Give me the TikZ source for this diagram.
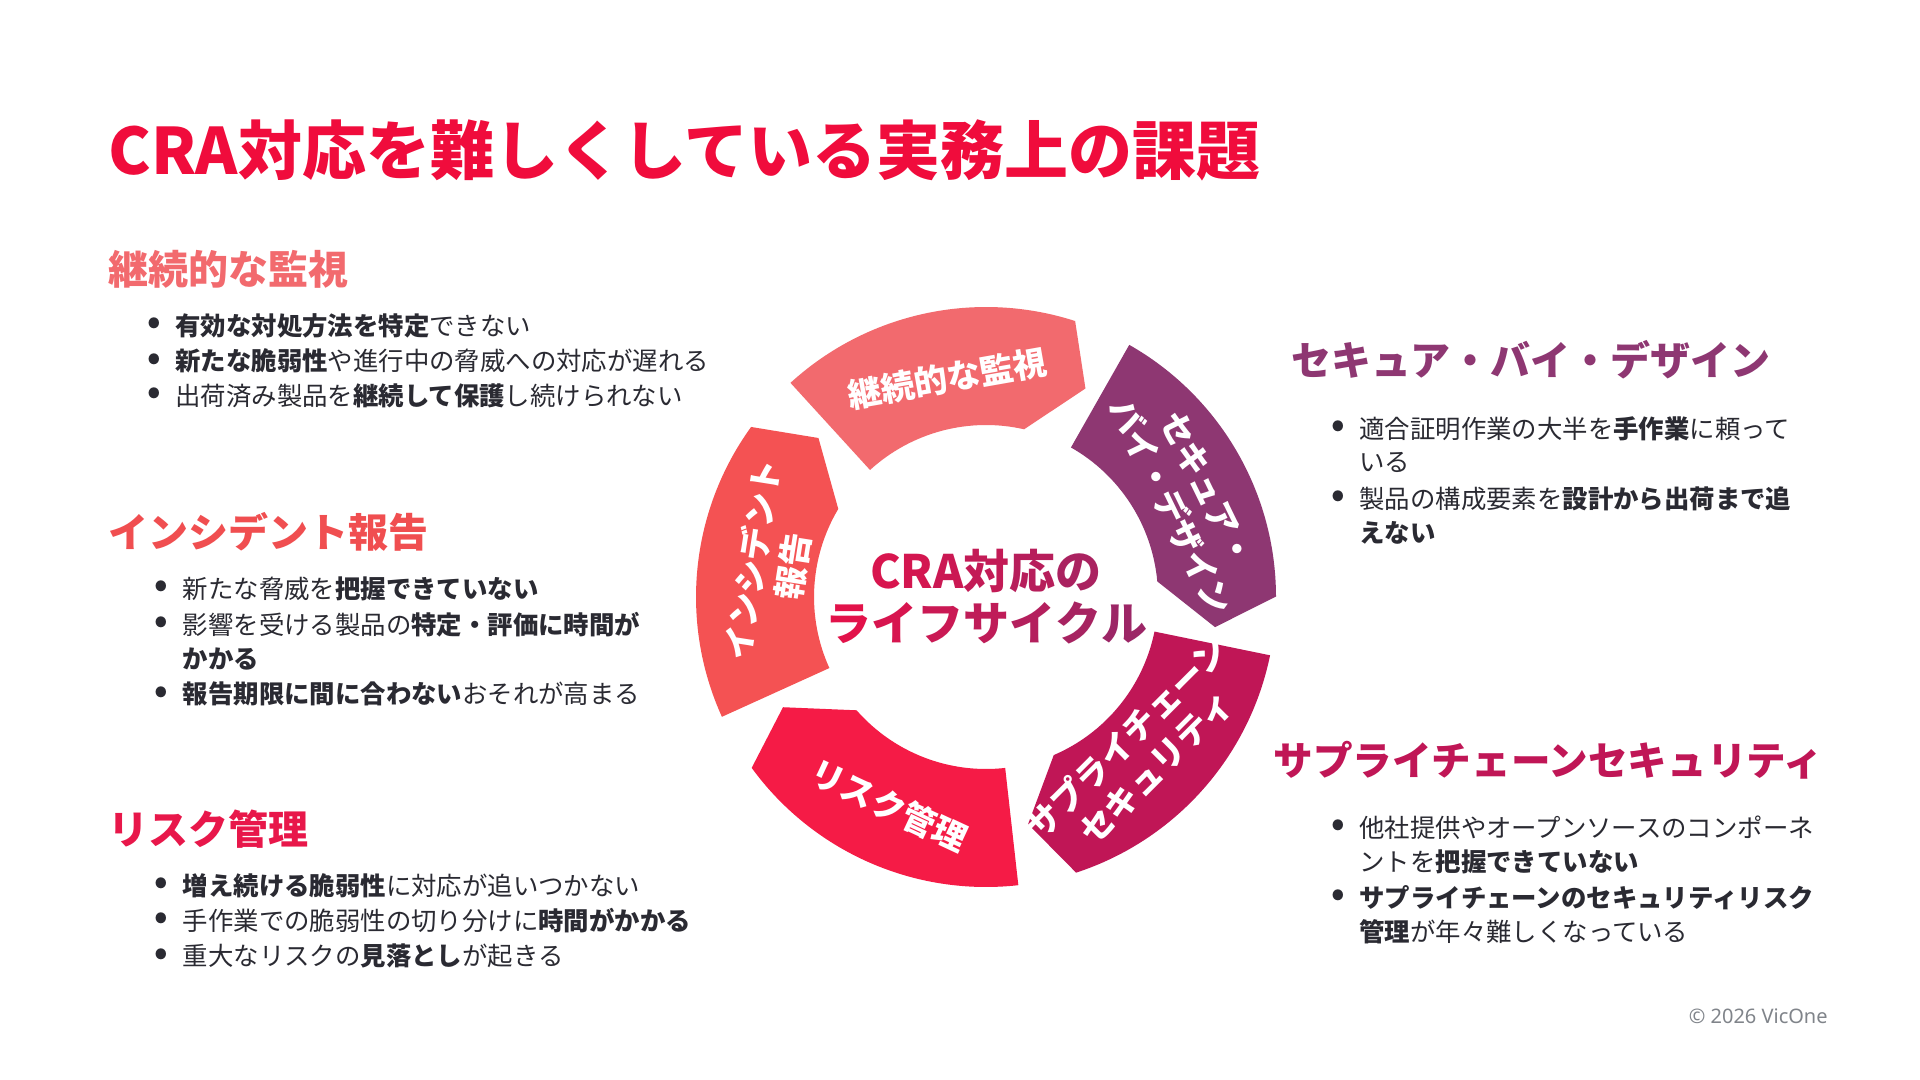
\documentclass[tikz,border=0pt]{standalone}
\usepackage{fontspec}
\setmainfont{Noto Sans CJK JP}
\newfontfamily\notolatin{Noto Sans}
\usetikzlibrary{calc}
\definecolor{titlered}{RGB}{240,12,60}
\definecolor{segA}{RGB}{242,106,110}
\definecolor{segB}{RGB}{142,55,114}
\definecolor{segC}{RGB}{192,22,86}
\definecolor{segD}{RGB}{245,27,70}
\definecolor{segE}{RGB}{244,82,83}
\definecolor{headD}{RGB}{232,23,74}
\definecolor{headE}{RGB}{240,78,80}
\definecolor{bodytext}{RGB}{42,42,50}
\definecolor{copygray}{RGB}{128,132,138}
\definecolor{gL}{RGB}{232,16,72}
\definecolor{gR}{RGB}{150,40,104}
\newcommand{\gc}[2]{\textcolor{gL!#1!gR}{#2}}
\begin{document}
\begin{tikzpicture}[x=0.5pt,y=0.5pt,
  titletext/.style={anchor=west, inner sep=0pt, font=\fontsize{32}{38}\selectfont\bfseries, text=titlered},
  headtext/.style={anchor=west, inner sep=0pt, font=\fontsize{20}{24}\selectfont\bfseries},
  bodyline/.style={anchor=west, inner sep=0pt, font=\fontsize{12.7}{15}\selectfont, text=bodytext},
  bulletmark/.style={anchor=center, inner sep=0pt, font=\fontsize{17}{20}\selectfont\bfseries, text=bodytext},
  seglabel/.style={inner sep=0pt, align=center, text=white, font=\fontsize{16.8}{20.5}\selectfont\bfseries},
  centerlabel/.style={inner sep=0pt, align=center, font=\fontsize{23}{26}\selectfont\bfseries},
]
\useasboundingbox[fill=white] (0,0) rectangle (1920,-1080);
\coordinate (C) at (986,-597);

% ring segments
\foreach \S/\col in {-42.4/segA, 29.6/segB, 101.6/segC, 173.6/segD, 245.6/segE}{
  \fill[\col] ($(C)+({90-\S}:290)$)
    arc[start angle={90-\S}, end angle={90-\S-60.3}, radius=290]
    -- ($(C)+({90-\S-67.9}:231)$)
    -- ($(C)+({90-\S-55.2}:172)$)
    arc[start angle={90-\S-55.2}, end angle={90-\S}, radius=172]
    -- cycle;
}

% segment labels
\node[seglabel, rotate=10] (l1) at ($(C)+(100:222)$) {継続的な監視};
\node[seglabel, rotate=-64] (l2) at ($(C)+(26:226)$) {セキュア・\\バイ・デザイン};
\node[seglabel, rotate=45] (l3) at ($(C)+(-45:220)$) {サプライチェーン\\セキュリティ};
\node[seglabel, rotate=-25] (l4) at ($(C)+(-115:230)$) {リスク管理};
\node[seglabel, rotate=81] (l5) at ($(C)+(-189:216)$) {インシデント\\報告};

% centre text
\node[centerlabel] (ctr) at (C) {\gc{81}{C}\gc{74}{R}\gc{65}{A}\gc{55}{対}\gc{40}{応}\gc{24}{の}\\
\gc{93}{ラ}\gc{79}{イ}\gc{64}{フ}\gc{50}{サ}\gc{36}{イ}\gc{21}{ク}\gc{7}{ル}};

% title
\node[titletext] (title) at (108,-150) {CRA対応を難しくしている実務上の課題};

% left: 継続的な監視
\node[headtext, text=segA] (h1) at (108,-269.4) {継続的な監視};
\node[bulletmark] (b11) at (154,-325.7) {•};
\node[bodyline] (t11) at (175,-325.7) {\textbf{有効な対処方法を特定}できない};
\node[bulletmark] (b12) at (154,-361.2) {•};
\node[bodyline] (t12) at (175,-361.2) {\textbf{新たな脆弱性}や進行中の脅威への対応が遅れる};
\node[bulletmark] (b13) at (154,-395.5) {•};
\node[bodyline] (t13) at (175,-395.5) {出荷済み製品を\textbf{継続して保護}し続けられない};

% left: インシデント報告
\node[headtext, text=headE] (h5) at (108,-531.4) {インシデント報告};
\node[bulletmark] (b51) at (161,-589) {•};
\node[bodyline] (t51) at (182.5,-589) {新たな脅威を\textbf{把握できていない}};
\node[bulletmark] (b52) at (161,-624.5) {•};
\node[bodyline] (t52) at (182.5,-624.5) {影響を受ける製品の\textbf{特定・評価に時間が}};
\node[bodyline] (t52b) at (182.5,-658.8) {\textbf{かかる}};
\node[bulletmark] (b53) at (161,-694.3) {•};
\node[bodyline] (t53) at (182.5,-694.3) {\textbf{報告期限に間に合わない}おそれが高まる};

% left: リスク管理
\node[headtext, text=headD] (h4) at (108,-829) {リスク管理};
\node[bulletmark] (b41) at (161,-885.3) {•};
\node[bodyline] (t41) at (182.5,-885.3) {\textbf{増え続ける脆弱性}に対応が追いつかない};
\node[bulletmark] (b42) at (161,-920.8) {•};
\node[bodyline] (t42) at (182.5,-920.8) {手作業での脆弱性の切り分けに\textbf{時間がかかる}};
\node[bulletmark] (b43) at (161,-956.3) {•};
\node[bodyline] (t43) at (182.5,-956.3) {重大なリスクの\textbf{見落とし}が起きる};

% right: セキュア・バイ・デザイン
\node[headtext, text=segB] (h2) at (1291,-360) {セキュア・バイ・デザイン};
\node[bulletmark] (b21) at (1338,-428.6) {•};
\node[bodyline] (t21) at (1359,-428.6) {適合証明作業の大半を\textbf{手作業}に頼って};
\node[bodyline] (t21b) at (1359,-462.9) {いる};
\node[bulletmark] (b22) at (1338,-498.4) {•};
\node[bodyline] (t22) at (1359,-498.4) {製品の構成要素を\textbf{設計から出荷まで追}};
\node[bodyline] (t22b) at (1359,-532.7) {\textbf{えない}};

% right: サプライチェーンセキュリティ
\node[headtext, text=segC, font=\fontsize{19.8}{24}\selectfont\bfseries] (h3) at (1273,-760.4) {サプライチェーンセキュリティ};
\node[bulletmark] (b31) at (1338,-827.8) {•};
\node[bodyline] (t31) at (1359,-827.8) {他社提供やオープンソースのコンポーネ};
\node[bodyline] (t31b) at (1359,-862) {ントを\textbf{把握できていない}};
\node[bulletmark] (b32) at (1338,-897.6) {•};
\node[bodyline] (t32) at (1359,-897.6) {\textbf{サプライチェーンのセキュリティリスク}};
\node[bodyline] (t32b) at (1359,-931.8) {\textbf{管理}が年々難しくなっている};

% copyright
\node[anchor=east, inner sep=0pt, font=\notolatin\fontsize{10}{12}\selectfont, text=copygray] (cp) at (1828,-1016) {© 2026 VicOne};
\end{tikzpicture}
\end{document}
